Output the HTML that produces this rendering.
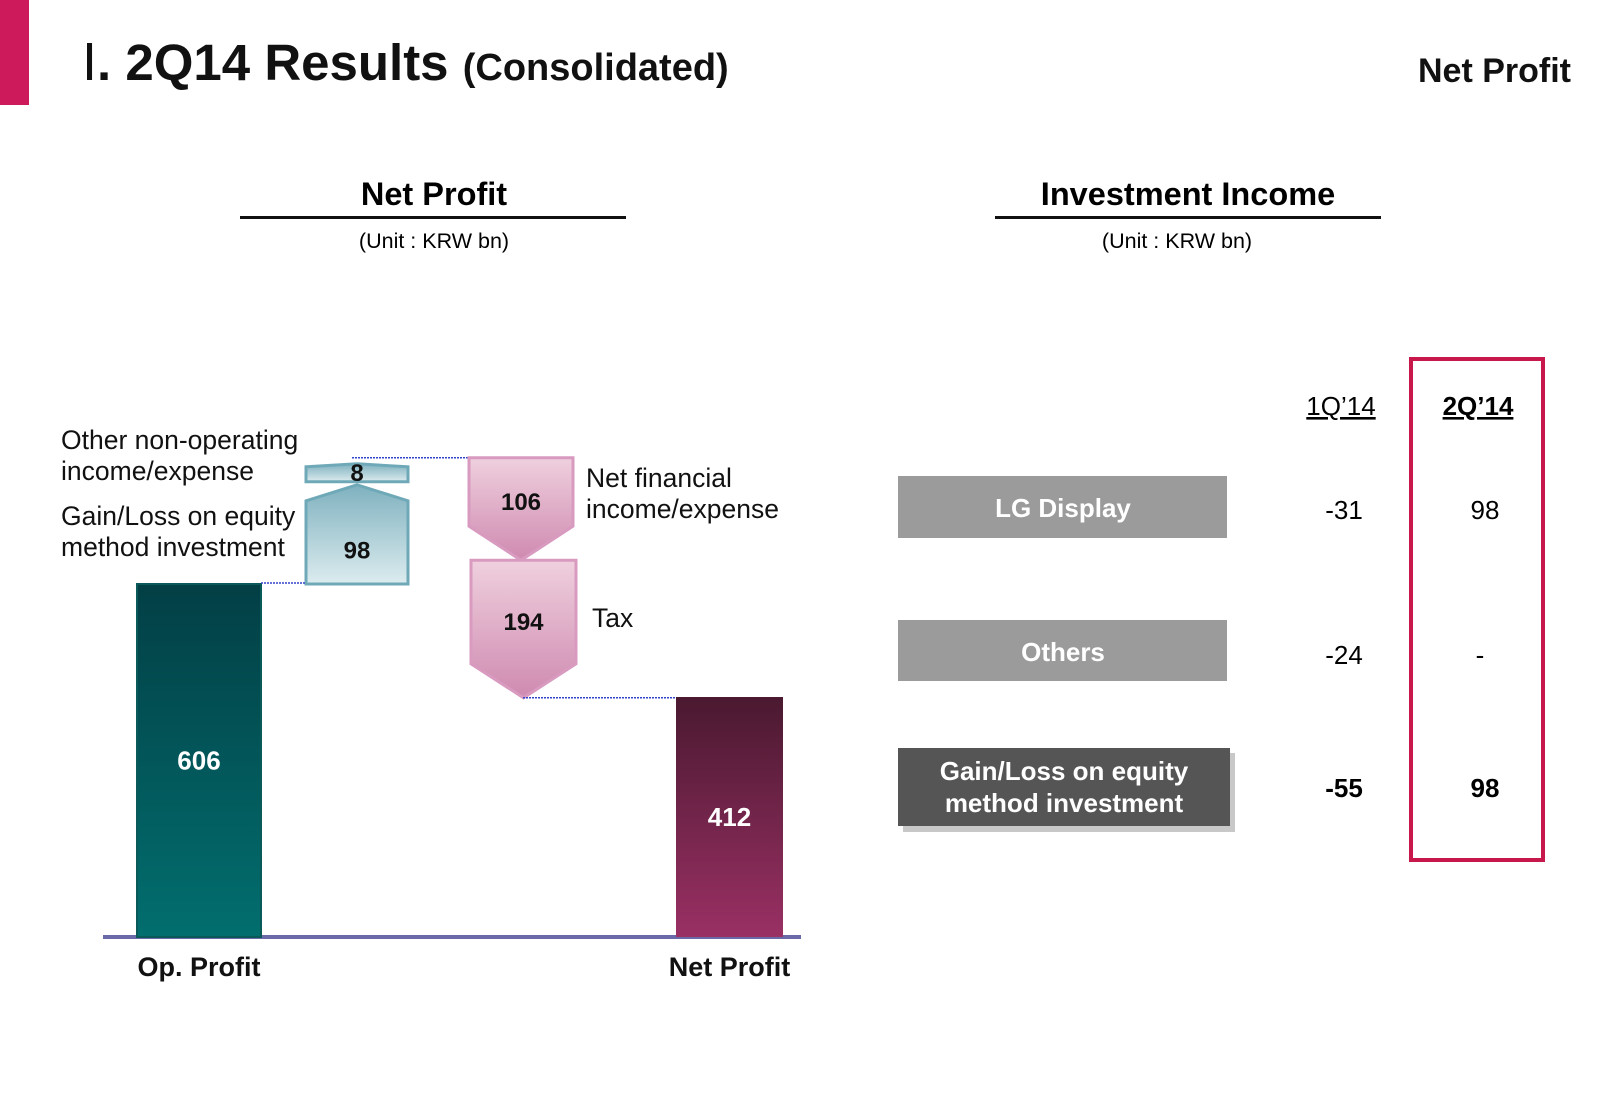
<!DOCTYPE html>
<html><head><meta charset="utf-8"><style>
html,body{margin:0;padding:0;background:#fff;}
svg{display:block;font-family:"Liberation Sans",Arial,sans-serif;}
</style></head><body>
<svg id="chart" width="1600" height="1108" viewBox="0 0 1600 1108">
<defs>
<linearGradient id="gTeal" x1="0" y1="0" x2="0" y2="1"><stop offset="0" stop-color="#023f45"/><stop offset="1" stop-color="#026e6e"/></linearGradient>
<linearGradient id="gPlum" x1="0" y1="0" x2="0" y2="1"><stop offset="0" stop-color="#4a1930"/><stop offset="1" stop-color="#9a3064"/></linearGradient>
<linearGradient id="gBlue" x1="0" y1="0" x2="0" y2="1"><stop offset="0" stop-color="#7fb1bf"/><stop offset="1" stop-color="#dcecef"/></linearGradient>
<linearGradient id="gPink" x1="0" y1="0" x2="0" y2="1"><stop offset="0" stop-color="#efd0de"/><stop offset="1" stop-color="#cf8ab0"/></linearGradient>
</defs>
<rect x="0" y="0" width="29" height="105" fill="#cc1a5a"/>
<text x="82" y="80" font-size="51" font-weight="bold" fill="#111"><tspan font-family="Liberation Serif,serif" font-weight="normal">Ⅰ</tspan>. 2Q14 Results <tspan font-size="38">(Consolidated)</tspan></text>
<text x="1571" y="82" font-size="34" font-weight="bold" text-anchor="end" fill="#111">Net Profit</text>

<text x="434" y="205" font-size="32.5" font-weight="bold" text-anchor="middle">Net Profit</text>
<rect x="240" y="216" width="386" height="3" fill="#111"/>
<text x="434" y="248" font-size="21.5" text-anchor="middle">(Unit : KRW bn)</text>
<text x="1188" y="205" font-size="32.5" font-weight="bold" text-anchor="middle">Investment Income</text>
<rect x="995" y="216" width="386" height="3" fill="#111"/>
<text x="1177" y="248" font-size="21.5" text-anchor="middle">(Unit : KRW bn)</text>

<g id="wf"></g>

<g>
<rect x="1411" y="359" width="132" height="501" fill="none" stroke="#c8174a" stroke-width="4"/>
<text x="1341" y="415" font-size="26" text-anchor="middle" text-decoration="underline">1Q’14</text>
<text x="1478" y="415" font-size="26" font-weight="bold" text-anchor="middle" text-decoration="underline">2Q’14</text>
<rect x="898" y="476" width="329" height="62" fill="#9b9b9b"/>
<text x="1063" y="517" font-size="26" font-weight="bold" fill="#fff" text-anchor="middle">LG Display</text>
<rect x="898" y="620" width="329" height="61" fill="#9b9b9b"/>
<text x="1063" y="661" font-size="26" font-weight="bold" fill="#fff" text-anchor="middle">Others</text>
<rect x="903" y="753" width="332" height="79" fill="#c8c8c8"/>
<rect x="898" y="748" width="332" height="78" fill="#555"/>
<text x="1064" y="780" font-size="26" font-weight="bold" fill="#fff" text-anchor="middle">Gain/Loss on equity</text>
<text x="1064" y="812" font-size="26" font-weight="bold" fill="#fff" text-anchor="middle">method investment</text>
<text x="1344" y="519" font-size="26" text-anchor="middle">-31</text>
<text x="1485" y="519" font-size="26" text-anchor="middle">98</text>
<text x="1344" y="664" font-size="26" text-anchor="middle">-24</text>
<text x="1480" y="664" font-size="26" text-anchor="middle">-</text>
<text x="1344" y="797" font-size="26" font-weight="bold" text-anchor="middle">-55</text>
<text x="1485" y="797" font-size="26" font-weight="bold" text-anchor="middle">98</text>
</g>
</svg>
<script>
const categories = ["Op. Profit", "Net Profit"];
const totals = [606, 412];
const stepLabels = ["Gain/Loss on equity method investment", "Other non-operating income/expense", "Net financial income/expense", "Tax"];
const stepValues = [98, 8, -106, -194];

const NS = "http://www.w3.org/2000/svg";
const g = document.getElementById("wf");
const baseY = 937, k = 0.5825;
function y(v){ return baseY - v*k; }
function stepH(v){ return 60 + Math.abs(v)*0.4; }
function mk(tag, attrs, parent){ const e=document.createElementNS(NS,tag); for(const a in attrs) e.setAttribute(a,attrs[a]); (parent||g).appendChild(e); return e; }
function txt(x,yy,s,size,bold,fill,anchor){ const t=mk("text",{x:x,y:yy,"font-size":size,"font-weight":bold?"bold":"normal",fill:fill||"#111","text-anchor":anchor||"middle"}); t.textContent=s; return t; }

const ax = mk("rect",{x:103,y:baseY-2,width:698,height:4,fill:"#6a6aa8"});



const barX = [[137,261],[676,783]];
const fills = ["url(#gTeal)","url(#gPlum)"];
totals.forEach((v,i)=>{
  const r = mk("rect",{x:barX[i][0],y:y(v),width:barX[i][1]-barX[i][0],height:v*k,fill:fills[i],stroke:i===0?"#0a5a5a":"none","stroke-width":2});
  
  
  const cx=(barX[i][0]+barX[i][1])/2;
  const t=txt(cx, y(v)+v*k/2+9, String(v), 26, true, "#fff");
  
  
  const c=txt(cx, 976, categories[i], 27, true, "#111");
  
  
});

let cur = y(totals[0]);
{
  const v=stepValues[0], h=stepH(v), x0=306,x1=408, top=cur-h, sh=top+16;
  const p=mk("polygon",{points:`${x0},${cur} ${x1},${cur} ${x1},${sh} ${(x0+x1)/2},${top} ${x0},${sh}`,fill:"url(#gBlue)",stroke:"#6fa9b8","stroke-width":3});
  
  
  const t=txt((x0+x1)/2, cur-h/2+24, String(Math.abs(v)), 24, true);
  
  
  const d=mk("line",{x1:261,y1:cur-1,x2:x0,y2:cur-1,stroke:"#3344cc","stroke-width":1.5,"stroke-dasharray":"2,1"});
  
  
  cur = top;
}
{
  const v=stepValues[1], x0=306,x1=408, bot=cur-3, top=bot-18;
  const p=mk("polygon",{points:`${x0},${bot} ${x1},${bot} ${x1},${top+3} ${(x0+x1)/2},${top} ${x0},${top+3}`,fill:"url(#gBlue)",stroke:"#6fa9b8","stroke-width":3});
  
  
  const t=txt((x0+x1)/2, bot-1, String(v), 24, true);
  
  
  cur = top-6;
  const d=mk("line",{x1:352,y1:cur,x2:470,y2:cur,stroke:"#3344cc","stroke-width":1.5,"stroke-dasharray":"2,1"});
  
  
}
const downX=[[469,573],[471,576]];
[2,3].forEach((si,j)=>{
  const v=stepValues[si], h=stepH(v), x0=downX[j][0], x1=downX[j][1], top=cur, tip=cur+h, sh=tip-34;
  const p=mk("polygon",{points:`${x0},${top} ${x1},${top} ${x1},${sh} ${(x0+x1)/2},${tip} ${x0},${sh}`,fill:"url(#gPink)",stroke:"#d99ac0","stroke-width":3});
  
  
  const t=txt((x0+x1)/2, top+(sh-top)/2+18, String(Math.abs(v)), 24, true);
  
  
  cur = tip;
});
{
  const d=mk("line",{x1:523,y1:cur,x2:676,y2:cur,stroke:"#3344cc","stroke-width":1.5,"stroke-dasharray":"2,1"});
  
  
}
const lab=[
 [61,[525,556],["Gain/Loss on equity","method investment"]],
 [61,[449,480],["Other non-operating","income/expense"]],
 [586,[487,518],["Net financial","income/expense"]],
 [592,[627],["Tax"]]];
lab.forEach((L,i)=>{
  L[2].forEach((s,j)=>{
    const t=txt(L[0],L[1][j],s,26.5,false,"#111","start");
    
    
  });
});
</script>
</body></html>
